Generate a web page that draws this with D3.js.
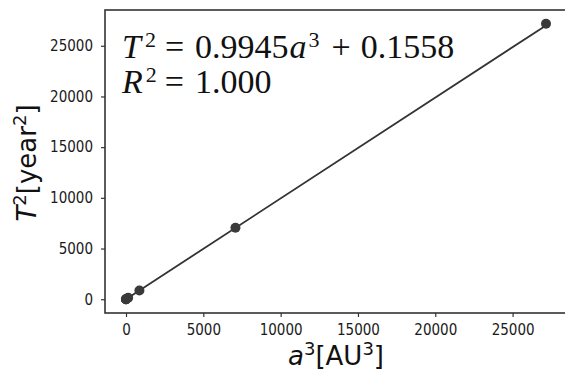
<!DOCTYPE html>
<html>
<head>
<meta charset="utf-8">
<script src="https://cdn.jsdelivr.net/npm/d3@7"></script>
<style>
  body { margin: 0; background: #fff; }
  svg { display: block; }
</style>
</head>
<body>
<script>
// planets: cube of semi-major axis vs square of period
const aCubed = [0.058, 0.378, 1.0, 3.54, 140.6, 867.9, 7078, 27160]
const tSquared = [0.058, 0.379, 1.0, 3.54, 140.7, 867.7, 7058, 27170]
const slope = 0.9945
const intercept = 0.1558
const xTicks = [0, 5000, 10000, 15000, 20000, 25000]
const yTicks = [0, 5000, 10000, 15000, 20000, 25000]

const width = 565, height = 373
const ink = '#333'

const svg = d3.select('body').append('svg')
    .attr('width', width)
    .attr('height', height)

const frame = {left: 105, top: 10, right: 567, bottom: 313}

// matplotlib style 5% padding
const xMax = d3.max(aCubed), yMax = d3.max(tSquared)
const x = d3.scaleLinear()
    .domain([-0.05 * xMax, 1.05 * xMax])
    .range([frame.left, frame.right])
const y = d3.scaleLinear()
    .domain([-0.05 * yMax, 1.05 * yMax])
    .range([frame.bottom, frame.top])

const xAxis = svg.append('g')
    .attr('transform', `translate(0,${frame.bottom})`)
    .call(d3.axisBottom(x).tickValues(xTicks).tickFormat(d3.format('d')).tickSizeOuter(0).tickSize(4).tickPadding(7))
const yAxis = svg.append('g')
    .attr('transform', `translate(${frame.left},0)`)
    .call(d3.axisLeft(y).tickValues(yTicks).tickFormat(d3.format('d')).tickSizeOuter(0).tickSize(4).tickPadding(8))

for (const ax of [xAxis, yAxis]) {
    ax.select('.domain').remove()
    ax.selectAll('line').attr('stroke', ink).attr('stroke-width', 1.2)
    ax.selectAll('text')
        .attr('fill', '#1a1a1a')
        .style('font', '15px "DejaVu Sans Condensed", "DejaVu Sans"')
}

// frame (right side is cut by the canvas)
svg.append('rect')
    .attr('x', frame.left)
    .attr('y', frame.top)
    .attr('width', frame.right - frame.left)
    .attr('height', frame.bottom - frame.top)
    .attr('fill', 'none')
    .attr('stroke', ink)
    .attr('stroke-width', 1.6)

// fitted line
const xs = d3.extent(aCubed)
svg.append('line')
    .attr('x1', x(xs[0]))
    .attr('y1', y(slope * xs[0] + intercept))
    .attr('x2', x(xs[1]))
    .attr('y2', y(slope * xs[1] + intercept))
    .attr('stroke', ink)
    .attr('stroke-width', 1.8)

svg.append('g')
    .selectAll('circle')
    .data(aCubed.map((a, i) => [a, tSquared[i]]))
    .join('circle')
    .attr('cx', d => x(d[0]))
    .attr('cy', d => y(d[1]))
    .attr('r', 5)
    .attr('fill', '#3a3a3a')

// equation annotation
const eq = svg.append('g')
    .style('font-family', '"Liberation Serif", "DejaVu Serif", serif')
    .style('font-size', '34px')
    .attr('fill', '#111')

const raise = 11
function sup(t, txt, dx) {
    t.append('tspan').attr('dx', dx).attr('dy', -raise).style('font-size', '22px').text(txt)
}
function normal(t, txt, dx, back = 0, italic = false) {
    t.append('tspan').attr('dx', dx).attr('dy', back)
        .style('font-style', italic ? 'italic' : 'normal').text(txt)
}

const line1 = eq.append('text').attr('x', 122).attr('y', 58)
normal(line1, 'T', 0, 0, true)
sup(line1, '2', 4)
normal(line1, '=', 9, raise)
normal(line1, '0.9945', 11)
normal(line1, 'a', 1, 0, true)
sup(line1, '3', 2)
normal(line1, '+', 12, raise)
normal(line1, '0.1558', 10)

const line2 = eq.append('text').attr('x', 122).attr('y', 93)
normal(line2, 'R', 0, 0, true)
sup(line2, '2', 3)
normal(line2, '=', 8, raise)
normal(line2, '1.000', 11)

// axis labels
const xl = svg.append('text')
    .attr('x', 336)
    .attr('y', 365)
    .attr('text-anchor', 'middle')
    .attr('fill', '#111')
    .style('font', '26px "DejaVu Sans"')
xl.append('tspan').style('font-style', 'italic').text('a')
xl.append('tspan').attr('dy', -10).style('font-size', '18px').text('3')
xl.append('tspan').attr('dy', 10).text('[AU')
xl.append('tspan').attr('dy', -10).style('font-size', '18px').text('3')
xl.append('tspan').attr('dy', 10).text(']')

const yl = svg.append('text')
    .attr('transform', `translate(36,163) rotate(-90)`)
    .attr('text-anchor', 'middle')
    .attr('fill', '#111')
    .style('font', '26px "DejaVu Sans"')
yl.append('tspan').style('font-style', 'italic').text('T')
yl.append('tspan').attr('dy', -10).style('font-size', '18px').text('2')
yl.append('tspan').attr('dy', 10).text('[year')
yl.append('tspan').attr('dy', -10).style('font-size', '18px').text('2')
yl.append('tspan').attr('dy', 10).text(']')
</script>
</body>
</html>
